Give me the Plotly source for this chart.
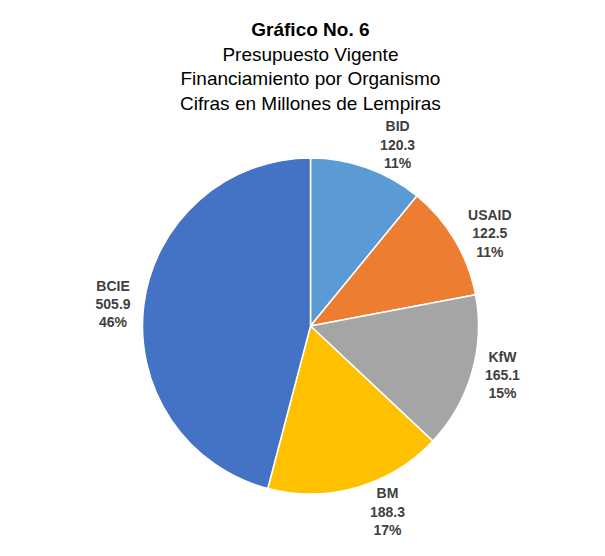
import plotly.graph_objects as go

labels = ["BID", "USAID", "KfW", "BM", "BCIE"]
values = [120.3, 122.5, 165.1, 188.3, 505.9]
colors = ["#5B9BD5", "#ED7D31", "#A5A5A5", "#FFC000", "#4472C4"]
title_lines = ["<b>Gráfico No. 6</b>", "Presupuesto Vigente",
               "Financiamiento por Organismo", "Cifras en Millones de Lempiras"]

fig = go.Figure(go.Pie(
    labels=labels,
    values=values,
    sort=False,
    direction="clockwise",
    rotation=0,
    marker=dict(colors=colors, line=dict(color="white", width=1.5)),
    textposition="outside",
    texttemplate="<b>%{label}<br>%{value:.1f}<br>%{percent:.0%}</b>",
    textfont=dict(family="Liberation Sans, Arial, sans-serif", size=14, color="#404040"),
    showlegend=False,
    automargin=False,
    domain=dict(x=[0, 1], y=[0.0, 1.0]),
))

fig.update_layout(
    width=605, height=556,
    paper_bgcolor="white",
    margin=dict(l=60, r=60, t=150, b=70),
    annotations=[dict(
        text="<br>".join(title_lines),
        xref="paper", yref="paper", x=0.5, y=1.42,
        xanchor="center", yanchor="top", showarrow=False,
        font=dict(family="Liberation Sans, Arial, sans-serif", size=19, color="black"),
    )],
)

fig.write_html("out.html")
